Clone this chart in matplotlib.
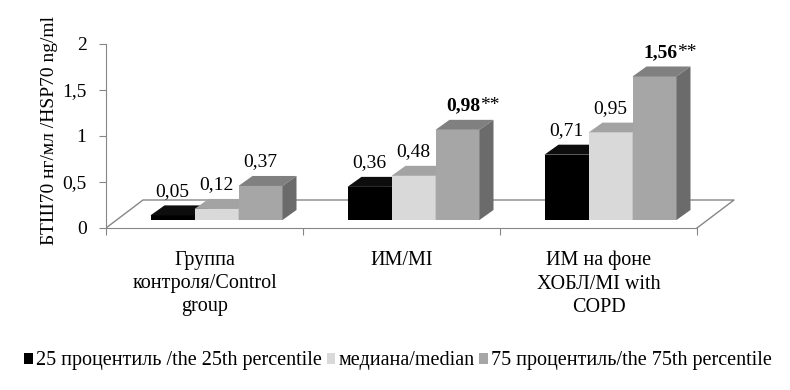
import matplotlib
matplotlib.use("Agg")
import matplotlib.pyplot as plt
from matplotlib.patches import Patch

plt.rcParams['font.family'] = ['Liberation Serif', 'DejaVu Serif']

# data
categories = ["Группа\nконтроля/Control\ngroup", "ИМ/MI", "ИМ на фоне\nХОБЛ/MI with\nCOPD"]
series_names = ["25 процентиль /the 25th percentile", "медиана/median",
                "75 процентиль/the 75th percentile"]
p25 = [0.05, 0.36, 0.71]
median = [0.12, 0.48, 0.95]
p75 = [0.37, 0.98, 1.56]
p75_significant = [False, True, True]  # marked "**"
yticks = [0, 0.5, 1, 1.5, 2]
ytick_labels = ["0", "0,5", "1", "1,5", "2"]
ylabel = "БТШ70 нг/мл /HSP70 ng/ml"

front_colors = ["#000000", "#d9d9d9", "#a6a6a6"]
top_colors = ["#0d0d0d", "#a3a3a3", "#808080"]
side_colors = ["#000000", "#b5b5b5", "#6b6b6b"]
axis_color = "#868686"

# pixel sizes of one data unit (x: category, y: value)
PX_X, PX_Y = 197.0, 92.0

fig = plt.figure(figsize=(7.9, 3.9), dpi=100)
ax = fig.add_axes([106 / 790, 162 / 390, 630 / 790, 184 / 390])
ax.set_xlim(0, 630 / PX_X)
ax.set_ylim(0, 2)

# fake 3d floor
fdx, fdy = 37 / PX_X, 28 / PX_Y
n = len(categories)
ax.plot([0, fdx, n + fdx, n], [0, fdy, fdy, 0], color=axis_color, lw=1, zorder=1)

# bars
w = 44 / PX_X
shift_x, base = 12 / PX_X, 8 / PX_Y
bdx, bdy = 14 / PX_X, 10 / PX_Y
series = [p25, median, p75]
z = 2
for i in range(n):
    for j, vals in enumerate(series):
        v = vals[i]
        x0 = i + 0.5 + shift_x - 1.5 * w + j * w
        top = base + v
        ax.bar(x0, v, width=w, bottom=base, align="edge", color=front_colors[j],
               lw=0, zorder=z)
        ax.fill([x0, x0 + w, x0 + w + bdx, x0 + bdx], [top, top, top + bdy, top + bdy],
                color=top_colors[j], lw=0, zorder=z)
        ax.fill([x0 + w, x0 + w + bdx, x0 + w + bdx, x0 + w],
                [base, base + bdy, top + bdy, top], color=side_colors[j], lw=0, zorder=z)
        z += 1
        txt = f"{v:.2f}".replace(".", ",")
        if j == 2 and p75_significant[i]:
            ax.annotate(txt, (x0 + w, top + bdy), xytext=(1, 14), textcoords="offset pixels",
                        ha="right", va="center", fontsize=14, fontweight="bold", zorder=20)
            ax.annotate("**", (x0 + w, top + bdy), xytext=(1, 14), textcoords="offset pixels",
                        ha="left", va="center", fontsize=14, zorder=20)
        else:
            ax.annotate(txt, (x0 + w / 2, top + bdy), xytext=(0, 14), textcoords="offset pixels",
                        ha="center", va="center", fontsize=14, zorder=20)

# category labels
for i, cat in enumerate(categories):
    ax.annotate(cat, (i + 0.5, 0), xytext=(0, -23), textcoords="offset pixels",
                ha="center", va="top", fontsize=14.5, linespacing=1.3)

# axes styling
for s in ["top", "right"]:
    ax.spines[s].set_visible(False)
for s in ["left", "bottom"]:
    ax.spines[s].set_color(axis_color)
ax.spines["bottom"].set_bounds(0, n)
ax.set_xticks(range(n + 1))
ax.set_xticklabels([])
ax.set_yticks(yticks)
ax.set_yticklabels(ytick_labels, fontsize=14)
ax.tick_params(axis="both", direction="out", length=5, color=axis_color)
ax.tick_params(axis="y", pad=9)

fig.text(50 / 790, 1 - 131 / 390, ylabel, rotation=90, ha="center", va="center", fontsize=14)

handles = [Patch(facecolor=c, edgecolor="none") for c in front_colors]
fig.legend(handles, series_names, loc="center", bbox_to_anchor=(398 / 790, 1 - 361 / 390),
           ncol=3, frameon=False, fontsize=14.5, handlelength=0.42, handleheight=0.42,
           handletextpad=0.15, columnspacing=0.25)

fig.savefig("out.png", dpi=100)
